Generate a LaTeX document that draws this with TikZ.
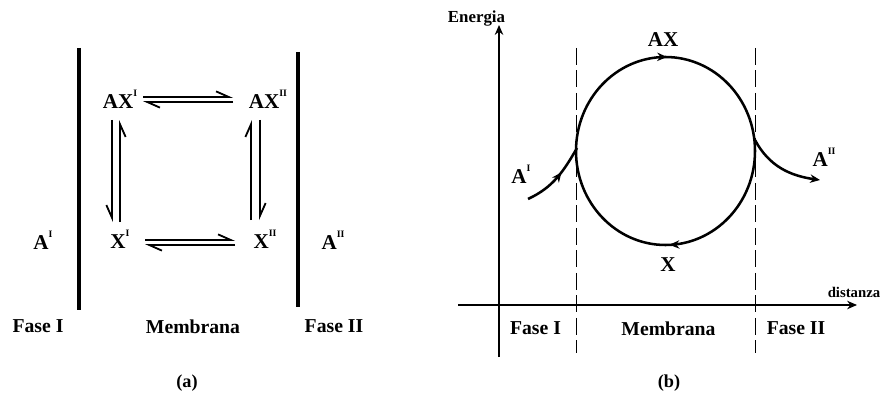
\documentclass[tikz,border=0pt]{standalone}
\usepackage{fontspec}
\setmainfont{Liberation Serif}
\usetikzlibrary{arrows.meta,decorations.markings}

% raised roman numeral
\newcommand{\esp}[1]{\raisebox{1.2ex}{\fontsize{7}{7}\selectfont #1}}

\begin{document}
\begin{tikzpicture}[
  x=0.025cm,y=0.025cm,
  spc/.style={font=\fontsize{15}{15}\selectfont\bfseries,inner sep=0pt},
  fase/.style={font=\fontsize{14}{14}\selectfont\bfseries,inner sep=0pt},
  panlbl/.style={font=\fontsize{13}{13}\selectfont\bfseries,inner sep=0pt},
  axlbl/.style={font=\fontsize{12}{12}\selectfont\bfseries,inner sep=0pt},
  dist/.style={font=\fontsize{10.5}{10.5}\selectfont\bfseries,inner sep=0pt},
  wall/.style={line width=2.4pt},
  harpL/.style={line width=1.3pt,-{Straight Barb[left,length=9pt,width=8pt]}},
  harpR/.style={line width=1.3pt,-{Straight Barb[right,length=9pt,width=8pt]}},
  axis/.style={line width=1.3pt,-{Stealth[length=7pt,width=6pt]}},
  bound/.style={line width=0.7pt,dash pattern=on 12pt off 4pt},
  track/.style={line width=1.8pt},
  tip/.style={-{Stealth[length=7pt,width=6pt]}}
]
\useasboundingbox (0,0) rectangle (880,396);

% ================= panel (a) =================
\draw[wall] (79,348) -- (79,86);
\draw[wall] (298,344) -- (298,89);

\node[spc] (axI)  at (120,297) {AX\esp{I}};
\node[spc] (axII) at (268,297) {AX\esp{II}};
\node[spc] (xI)   at (120,157) {X\esp{I}};
\node[spc] (xII)  at (265,157) {X\esp{II}};
\node[spc] (aI)   at (43,156)  {A\esp{I}};
\node[spc] (aII)  at (333,156) {A\esp{II}};

% equilibria
\draw[harpL] ([shift={(23,2)}]axI.center) -- ([shift={(-35,2)}]axII.center);
\draw[harpL] ([shift={(-35,-3)}]axII.center) -- ([shift={(23,-3)}]axI.center);
\draw[harpL] ([shift={(25,-1)}]xI.center) -- ([shift={(-30,-1)}]xII.center);
\draw[harpL] ([shift={(-30,-6)}]xII.center) -- ([shift={(25,-6)}]xI.center);
\draw[harpR] ([shift={(-8,-21)}]axI.center) -- ([shift={(-8,17)}]xI.center);
\draw[harpR] ([shift={(0,17)}]xI.center) -- ([shift={(0,-21)}]axI.center);
\draw[harpL] ([shift={(-14,19)}]xII.center) -- ([shift={(-17,-21)}]axII.center);
\draw[harpL] ([shift={(-8,-21)}]axII.center) -- ([shift={(-5,19)}]xII.center);

\node[fase] (faseIa) at (38,69.5)  {Fase I};
\node[fase] (membra) at (193,69.5) {Membrana};
\node[fase] (faseIIa) at (334,69.5) {Fase II};
\node[panlbl] (capa) at (187,13)   {(a)};

% ================= panel (b) =================
\draw[axis] (499,39) -- (499,371);
\draw[axis] (458,91) -- (857,91);
\node[axlbl] (energia) at (476.5,377) {Energia};
\node[dist]  (distanza) at (854,104) {distanza};

\draw[bound] (576,348) -- (576,43);
\draw[bound] (755,348) -- (755,43);

\draw[track,postaction={decorate},decoration={markings,
    mark=at position 0.2526 with {\arrow{Stealth[length=7pt,width=6pt]}},
    mark=at position 0.743 with {\arrow{Stealth[length=7pt,width=6pt]}}}]
  (576,245) arc[start angle=180,end angle=-180,x radius=89.5,y radius=94];
\draw[track,postaction={decorate},decoration={markings,
    mark=at position 0.6 with {\arrow{Stealth[length=7pt,width=6pt]}}}]
  (528,197) to[out=25,in=240] (577,248);
\draw[track,tip] (755,256) to[out=-62,in=172] (820,216);

\node[spc] (bAX)  at (663,356) {AX};
\node[spc] (bX)   at (668,131) {X};
\node[spc] (bAI)  at (521,222) {A\esp{I}};
\node[spc] (bAII) at (824,239) {A\esp{II}};

\node[fase] (faseIb)  at (535.5,67.5) {Fase I};
\node[fase] (membrb)  at (668.5,67.5) {Membrana};
\node[fase] (faseIIb) at (796,67.5)   {Fase II};
\node[panlbl] (capb)  at (669,13)     {(b)};

\end{tikzpicture}
\end{document}
